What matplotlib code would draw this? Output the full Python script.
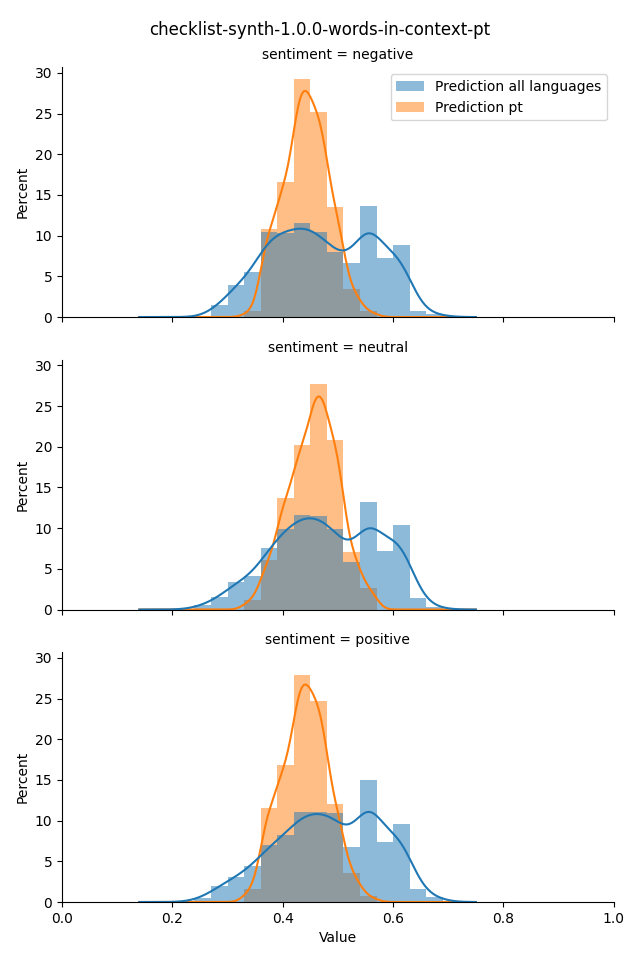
import math
import numpy as np
import matplotlib.pyplot as plt

title = "checklist-synth-1.0.0-words-in-context-pt"
sentiments = ["negative", "neutral", "positive"]
series_names = ["Prediction all languages", "Prediction pt"]

# histogram bin edges (width 0.03) shared by every panel
bin_edges = np.round(np.arange(0.24, 0.6901, 0.03), 2)

# percent per bin, one list per sentiment
all_negative = [0.0, 1.5, 3.9, 5.5, 10.4, 10.3, 11.5, 10.4, 8.0, 6.6, 13.7, 7.2, 8.9, 0.8, 0.4]
pt_negative = [0.0, 0.0, 0.0, 0.7, 10.8, 16.6, 29.2, 25.2, 13.5, 3.4, 0.7, 0.0, 0.0, 0.0, 0.0]
all_neutral = [0.5, 1.5, 3.4, 4.1, 7.6, 9.9, 11.6, 11.5, 9.9, 5.9, 13.2, 7.2, 10.4, 1.4, 0.3]
pt_neutral = [0.0, 0.0, 0.0, 1.2, 6.1, 13.7, 20.2, 27.7, 20.8, 7.1, 2.7, 0.0, 0.0, 0.0, 0.0]
all_positive = [0.5, 2.0, 3.1, 4.4, 7.0, 8.2, 11.0, 11.0, 10.9, 6.7, 15.0, 7.4, 9.6, 1.6, 0.6]
pt_positive = [0.0, 0.0, 0.0, 1.6, 11.6, 16.8, 27.9, 24.7, 12.1, 3.6, 0.7, 0.0, 0.0, 0.0, 0.0]

all_values = [all_negative, all_neutral, all_positive]
pt_values = [pt_negative, pt_neutral, pt_positive]

# smoothing bandwidths and support of the density curves
kde_bw = [0.023, 0.012]
kde_range = (0.14, 0.75)

colors = ["#1f77b4", "#ff7f0e"]

erf = np.vectorize(math.erf)


def smooth_hist(edges, weights, bw, grid):
    # histogram (uniform within each bin) convolved with a gaussian kernel
    w = np.asarray(weights, dtype=float)
    lo = (grid[:, None] - edges[None, :-1]) / (bw * np.sqrt(2))
    hi = (grid[:, None] - edges[None, 1:]) / (bw * np.sqrt(2))
    return (0.5 * (erf(lo) - erf(hi))) @ w


fig, axes = plt.subplots(3, 1, figsize=(6.4, 9.6), sharex=True, sharey=True)
fig.subplots_adjust(left=0.097, right=0.959, bottom=0.0604, top=0.9297, hspace=0.172)
fig.suptitle(title, fontsize=12, y=0.978)

grid = np.linspace(kde_range[0], kde_range[1], 300)

for ax, sent, a_vals, p_vals in zip(axes, sentiments, all_values, pt_values):
    handles = []
    # pt drawn first so the all-languages bars sit on top (grey overlap)
    for vals, color in zip([p_vals, a_vals], colors[::-1]):
        handles.append(ax.bar(bin_edges[:-1], vals, width=np.diff(bin_edges), align="edge",
                              color=color, alpha=0.5, linewidth=0))
    for vals, color, bw in zip([p_vals, a_vals], colors[::-1], kde_bw[::-1]):
        ax.plot(grid, smooth_hist(bin_edges, vals, bw, grid), color=color, lw=1.5)
    ax.set_title(f"sentiment = {sent}", fontsize=10)
    ax.set_ylabel("Percent")
    ax.spines["top"].set_visible(False)
    ax.spines["right"].set_visible(False)
    ax.tick_params(labelbottom=False)

axes[0].legend(handles[::-1], series_names, loc="upper right")
axes[0].set_xlim(0, 1)
axes[0].set_yticks(np.arange(0, 31, 5))
axes[-1].tick_params(labelbottom=True)
axes[-1].set_xlabel("Value")

fig.savefig("out.png", dpi=100)
